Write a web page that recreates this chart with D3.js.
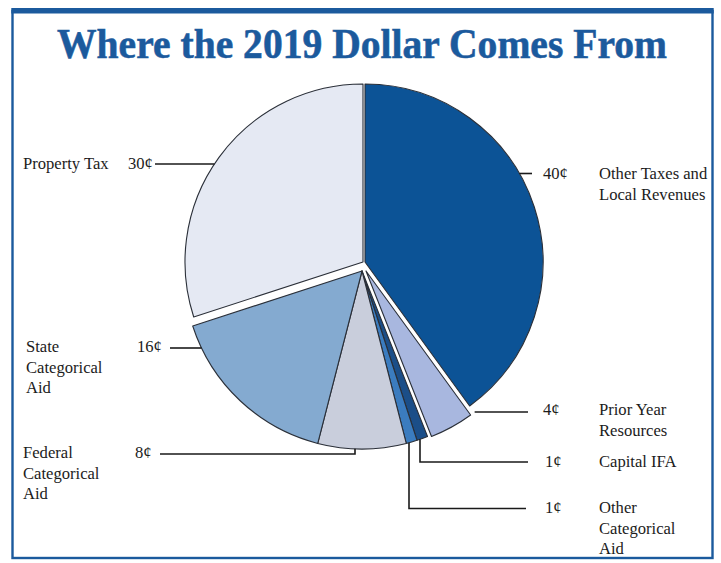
<!DOCTYPE html>
<html>
<head>
<meta charset="utf-8">
<script src="https://cdn.jsdelivr.net/npm/d3@7"></script>
<style>
  html, body { margin: 0; padding: 0; background: #ffffff; }
  svg { display: block; }
</style>
</head>
<body>
<div id="chart"></div>
<script>
// ---------- data ----------
const categories = [
  "Other Taxes and Local Revenues",
  "Prior Year Resources",
  "Capital IFA",
  "Other Categorical Aid",
  "Federal Categorical Aid",
  "State Categorical Aid",
  "Property Tax"
];
const values = [40, 4, 1, 1, 8, 16, 30];
const valueLabels = ["40¢", "4¢", "1¢", "1¢", "8¢", "16¢", "30¢"];
const nameLines = [
  ["Other Taxes and", "Local Revenues"],
  ["Prior Year", "Resources"],
  ["Capital IFA"],
  ["Other", "Categorical", "Aid"],
  ["Federal", "Categorical", "Aid"],
  ["State", "Categorical", "Aid"],
  ["Property Tax"]
];
const titleText = "Where the 2019 Dollar Comes From";

// ---------- styles / layout ----------
const W = 721, H = 563;
const colors = ["#0c5396", "#a8b7df", "#1b4e88", "#3b7cbf", "#c9cedc", "#84aad0", "#e5e9f3"];
const blue = "#1b5a9d";
const center = {x: 362, y: 271};
const R = 178;
// slice displacements (exploded pieces)
const explode = [[3, -9], [4, 0], [0, 0], [0, 0], [0, 0], [0, 0], [1, -9]];
// label layout: name x, value x, first baseline, leader spec
const labelLayout = [
  {nameX: 599, valX: 543, y: 179, leader: {kind: "h", y: 173.5, to: 532, side: 1}},
  {nameX: 599, valX: 543, y: 415, leader: {kind: "h", y: 412, to: 528, side: 1}},
  {nameX: 599, valX: 545, y: 467, leader: {kind: "v", x: 420, y: 462, to: 528}},
  {nameX: 599, valX: 545, y: 513, leader: {kind: "v", x: 409, y: 508.5, to: 526}},
  {nameX: 23, valX: 135, y: 458, leader: {kind: "v", x: 355, y: 454, to: 160}},
  {nameX: 26, valX: 137, y: 352, leader: {kind: "h", y: 348, to: 170, side: -1}},
  {nameX: 23, valX: 128, y: 169, leader: {kind: "h", y: 164, to: 155, side: -1}}
];
const lineH = 20.5;

const svg = d3.select("#chart").append("svg")
  .attr("width", W).attr("height", H)
  .attr("viewBox", `0 0 ${W} ${H}`);

// frame
svg.append("rect")
  .attr("x", 12.5).attr("y", 11).attr("width", 700).attr("height", 547)
  .attr("fill", "none").attr("stroke", blue).attr("stroke-width", 2.4);
svg.append("rect")
  .attr("x", 11.3).attr("y", 8).attr("width", 702.4).attr("height", 5.5)
  .attr("fill", blue);

// title
svg.append("text")
  .attr("x", 362).attr("y", 58)
  .attr("text-anchor", "middle")
  .attr("font-family", "'Liberation Serif', 'Times New Roman', serif")
  .attr("font-weight", "bold")
  .attr("font-size", 43)
  .attr("fill", blue)
  .attr("stroke", blue)
  .attr("stroke-width", 0.6)
  .attr("textLength", 610)
  .attr("lengthAdjust", "spacingAndGlyphs")
  .text(titleText);

// pie
const pie = d3.pie().sort(null).value(d => d).startAngle(0).endAngle(2 * Math.PI);
const arcs = pie(values);
const arc = d3.arc().innerRadius(0).outerRadius(R);

const g = svg.append("g").attr("transform", `translate(${center.x},${center.y})`);
g.selectAll("path.slice")
  .data(arcs)
  .join("path")
  .attr("class", "slice")
  .attr("transform", (d, i) => `translate(${explode[i][0]},${explode[i][1]})`)
  .attr("d", arc)
  .attr("fill", (d, i) => colors[i])
  .attr("stroke", "#2a2f38")
  .attr("stroke-width", 1.1)
  .attr("stroke-linejoin", "round");

// leaders
function sliceCenter(i) {
  return {x: center.x + explode[i][0], y: center.y + explode[i][1]};
}
const leaderG = svg.append("g")
  .attr("fill", "none").attr("stroke", "#1a1a1a").attr("stroke-width", 1.6);
labelLayout.forEach((L, i) => {
  const c = sliceCenter(i);
  const ld = L.leader;
  let pts;
  if (ld.kind === "h") {
    const dy = ld.y - c.y;
    const x0 = c.x + ld.side * Math.sqrt(R * R - dy * dy);
    pts = [[x0, ld.y], [ld.to, ld.y]];
  } else {
    const dx = ld.x - c.x;
    const y0 = c.y + Math.sqrt(R * R - dx * dx);
    pts = [[ld.x, y0], [ld.x, ld.y], [ld.to, ld.y]];
  }
  leaderG.append("path").attr("d", d3.line()(pts));
});

// labels
const font = "'Liberation Serif', 'Times New Roman', serif";
const labelG = svg.append("g")
  .attr("font-family", font).attr("font-size", 16.6).attr("fill", "#1c1c1c");
labelLayout.forEach((L, i) => {
  labelG.append("text")
    .attr("x", L.valX).attr("y", L.y)
    .text(valueLabels[i]);
  nameLines[i].forEach((t, k) => {
    labelG.append("text")
      .attr("x", L.nameX).attr("y", L.y + k * lineH)
      .text(t);
  });
});
</script>
</body>
</html>
